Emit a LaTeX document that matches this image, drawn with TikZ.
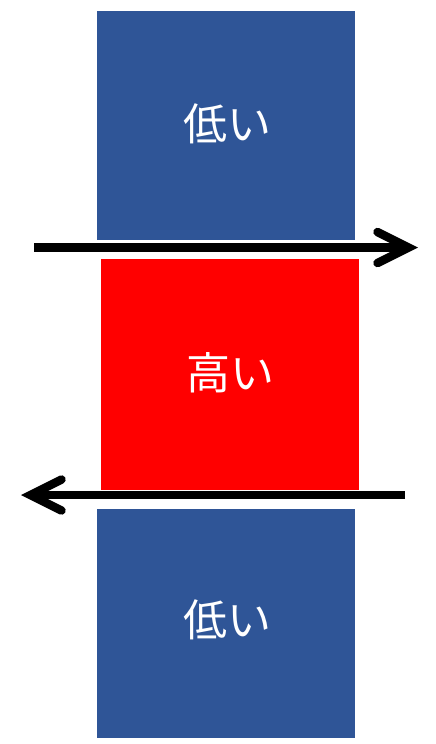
\documentclass[tikz,border=0pt]{standalone}
\usepackage{fontspec}
\newfontfamily\cjk{Noto Sans CJK JP}
\usetikzlibrary{arrows.meta}
\definecolor{lowblue}{HTML}{2F5597}
\definecolor{highred}{HTML}{FF0000}
\tikzset{
  box/.style={inner sep=0pt, outer sep=0pt, text=white, font=\cjk\fontsize{44}{48}\selectfont},
  flowarrow/.style={line width=8.5pt, -{Straight Barb[length=31pt, width=31pt, line cap=round, line join=miter]}}
}
\begin{document}
\begin{tikzpicture}[x=1pt,y=-1pt]
\useasboundingbox (0,0) rectangle (436,744);
\fill[lowblue] (97,11) rectangle (355,240);
\node[box] (low1) at (227,124) {低い};
\fill[highred] (101,259) rectangle (359,490);
\node[box] (high) at (230,373) {高い};
\fill[lowblue] (97,509) rectangle (355,738);
\node[box] (low2) at (227,620) {低い};
\coordinate (a1s) at (34,247.5);
\coordinate (a1e) at (418,247.5);
\coordinate (a2s) at (405,495);
\coordinate (a2e) at (21,495);
\draw[flowarrow] (a1s) -- (a1e);
\draw[flowarrow] (a2s) -- (a2e);
\end{tikzpicture}
\end{document}
